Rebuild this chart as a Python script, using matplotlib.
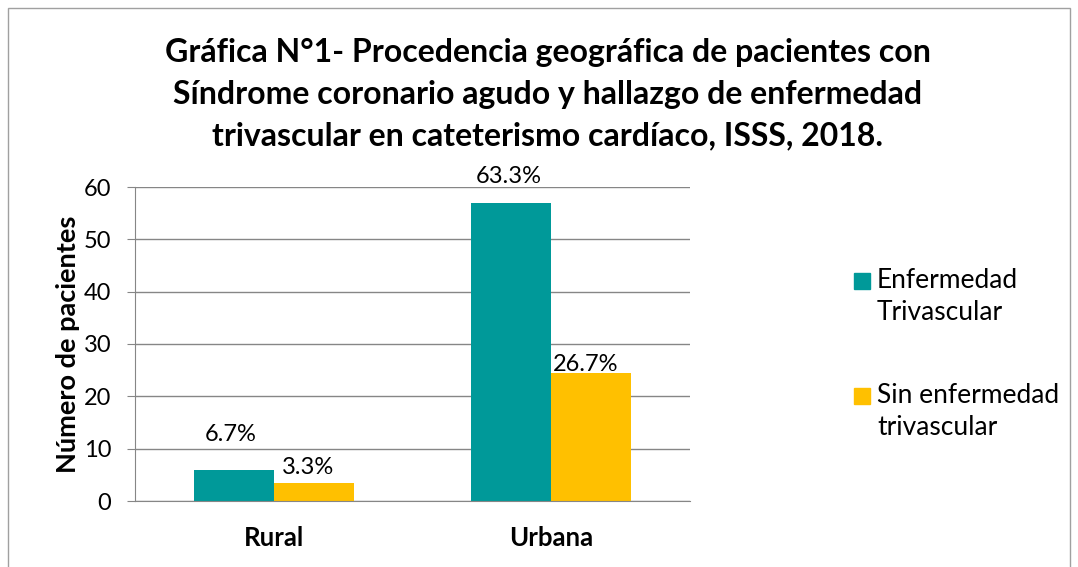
import matplotlib.pyplot as plt
import numpy as np
from matplotlib.patches import Rectangle

# Datos de la gráfica
categorias = ['Rural', 'Urbana']
enfermedad = [6, 57]
sin_enfermedad = [3.4, 24.4]
etiq_enf = ['6.7%', '63.3%']
etiq_sin = ['3.3%', '26.7%']
series = ['Enfermedad\nTrivascular', 'Sin enfermedad\ntrivascular']
colores = ['#009999', '#FFC000']

plt.rcParams['font.family'] = ['Lato', 'DejaVu Sans']

W, H = 1078, 567
fig = plt.figure(figsize=(W / 100, H / 100), dpi=100)
ax = fig.add_axes([135 / W, 1 - 501 / H, (690 - 135) / W, (501 - 187) / H])

x = np.arange(len(categorias))
ancho = 0.288
b1 = ax.bar(x - ancho / 2, enfermedad, ancho, color=colores[0])
b2 = ax.bar(x + ancho / 2, sin_enfermedad, ancho, color=colores[1])

# etiquetas de datos (desplazamiento en puntos sobre cada barra)
desp_enf = [25, 19]
desp_sin = [11, 6.5]
for rect, t, d in zip(b1, etiq_enf, desp_enf):
    ax.annotate(t, (rect.get_x() + rect.get_width() / 2, rect.get_height()),
                xytext=(-2, d), textcoords='offset points',
                ha='center', va='center', fontsize=17)
for rect, t, d in zip(b2, etiq_sin, desp_sin):
    ax.annotate(t, (rect.get_x() + rect.get_width() / 2, rect.get_height()),
                xytext=(-4, d), textcoords='offset points',
                ha='center', va='center', fontsize=17)

ax.set_xlim(-0.5, 1.5)
ax.set_ylim(0, 60)
ax.set_yticks(range(0, 61, 10))
ax.set_xticks(x)
ax.set_xticklabels(categorias, fontsize=18.5, fontweight='bold')
ax.tick_params(axis='y', labelsize=17, length=6, color='#868686', pad=11)
ax.tick_params(axis='x', length=0, pad=18)
ax.yaxis.grid(True, color='#868686', linewidth=1)
ax.set_axisbelow(True)
for s in ['top', 'right']:
    ax.spines[s].set_visible(False)
ax.spines['left'].set_color('#868686')
ax.spines['bottom'].set_color('#868686')
ax.set_ylabel('Número de pacientes', fontsize=19.5, fontweight='bold', labelpad=3)

# leyenda
leg_y = [281, 396]
for c, lab, yy in zip(colores, series, leg_y):
    fig.patches.append(Rectangle((854 / W, 1 - (yy + 8) / H), 16 / W, 16 / H,
                                 transform=fig.transFigure, color=c))
    fig.text(877 / W, 1 - (yy - 13) / H, lab, ha='left', va='top',
             fontsize=19, linespacing=1.33)

fig.text(548 / W, 1 - 94 / H,
         'Gráfica N°1- Procedencia geográfica de pacientes con\n'
         'Síndrome coronario agudo y hallazgo de enfermedad\n'
         'trivascular en cateterismo cardíaco, ISSS, 2018.',
         ha='center', va='center', fontsize=23, fontweight='bold', linespacing=1.52)

fig.patches.append(Rectangle((8 / W, -0.1), 1062 / W, 1.1 - 8 / H,
                             transform=fig.transFigure, fill=False,
                             edgecolor='#a0a0a0', linewidth=1))

fig.savefig('out.png', dpi=100)
